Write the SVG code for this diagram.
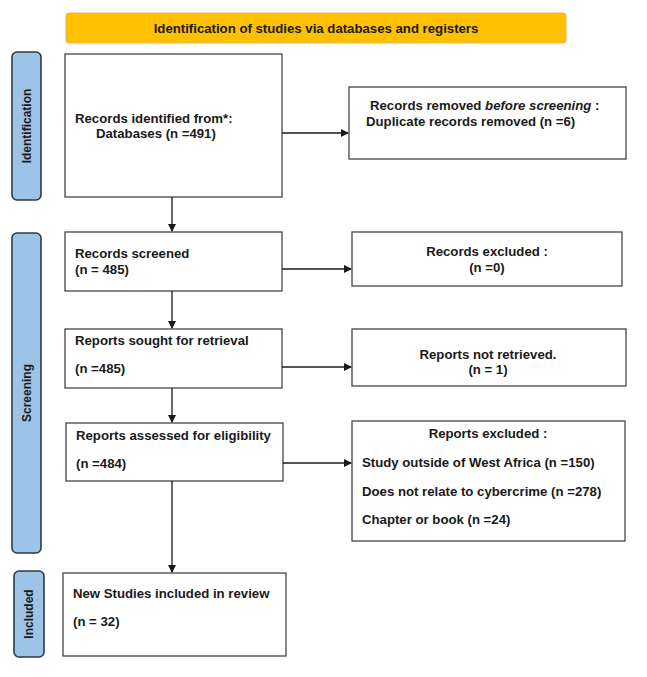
<svg xmlns="http://www.w3.org/2000/svg" width="647" height="677" viewBox="0 0 647 677">
<style>
.box{fill:#fff;stroke:#454545;stroke-width:1.3}
.side{fill:#9DC3E6;stroke:#2E3A48;stroke-width:1.6}
.t{font-family:"Liberation Sans",Arial,sans-serif;font-weight:bold;font-size:13.2px;fill:#1a1a1a}
.c{text-anchor:middle}
.s{font-family:"Liberation Sans",Arial,sans-serif;font-weight:bold;font-size:12px;fill:#1a1a1a;text-anchor:middle}
.ln{stroke:#1a1a1a;stroke-width:1.3;fill:none}
</style>
<defs>
<marker id="ah" markerWidth="8" markerHeight="8" refX="7" refY="4" orient="auto" markerUnits="userSpaceOnUse">
<path d="M0,0 L8,4 L0,8 Z" fill="#1a1a1a"/>
</marker>
</defs>
<rect width="647" height="677" fill="#fff"/>
<g id="banner">
<rect x="66" y="13" width="500" height="30" rx="3" fill="#FFC000" stroke="#E9B44C" stroke-width="1"/>
<text class="t c" x="316" y="33">Identification of studies via databases and registers</text>
</g>
<g id="side-identification">
<rect class="side" x="12" y="52" width="29" height="148" rx="5"/>
<text class="s" transform="translate(31,126) rotate(-90)">Identification</text>
</g>
<g id="side-screening">
<rect class="side" x="12" y="233" width="29" height="320" rx="5"/>
<text class="s" transform="translate(31,393) rotate(-90)">Screening</text>
</g>
<g id="side-included">
<rect class="side" x="14" y="571" width="30" height="86" rx="5"/>
<text class="s" transform="translate(33,614) rotate(-90)">Included</text>
</g>
<g id="records-identified">
<rect class="box" x="65" y="54" width="217" height="143"/>
<text class="t" x="75" y="123">Records identified from*:</text>
<text class="t" x="96" y="138">Databases (n =491)</text>
</g>
<g id="records-removed">
<rect class="box" x="349" y="87" width="277" height="72"/>
<text class="t" x="370" y="110">Records removed <tspan font-style="italic">before screening</tspan> :</text>
<text class="t" x="366" y="126">Duplicate records removed (n =6)</text>
</g>
<g id="records-screened">
<rect class="box" x="65" y="232" width="217" height="59"/>
<text class="t" x="75" y="258">Records screened</text>
<text class="t" x="75" y="274">(n = 485)</text>
</g>
<g id="records-excluded">
<rect class="box" x="352" y="232" width="270" height="54"/>
<text class="t c" x="487" y="256">Records excluded :</text>
<text class="t c" x="487" y="272">(n =0)</text>
</g>
<g id="reports-sought">
<rect class="box" x="65" y="329" width="217" height="59"/>
<text class="t" x="75" y="345">Reports sought for retrieval</text>
<text class="t" x="75" y="373">(n =485)</text>
</g>
<g id="reports-not-retrieved">
<rect class="box" x="352" y="329" width="274" height="57"/>
<text class="t c" x="488" y="359">Reports not retrieved.</text>
<text class="t c" x="488" y="374">(n = 1)</text>
</g>
<g id="reports-assessed">
<rect class="box" x="66" y="423" width="217" height="58"/>
<text class="t" x="76" y="440">Reports assessed for eligibility</text>
<text class="t" x="76" y="468">(n =484)</text>
</g>
<g id="reports-excluded">
<rect class="box" x="352" y="421" width="273" height="120"/>
<text class="t c" x="488" y="438">Reports excluded :</text>
<text class="t" x="362" y="467">Study outside of West Africa (n =150)</text>
<text class="t" x="362" y="496">Does not relate to cybercrime (n =278)</text>
<text class="t" x="362" y="524">Chapter or book (n =24)</text>
</g>
<g id="studies-included">
<rect class="box" x="63" y="573" width="223" height="83"/>
<text class="t" x="73" y="598">New Studies included in review</text>
<text class="t" x="73" y="626">(n = 32)</text>
</g>
<g id="connectors">
<line class="ln" x1="282" y1="133" x2="348" y2="133" marker-end="url(#ah)"/>
<line class="ln" x1="172" y1="197" x2="172" y2="231" marker-end="url(#ah)"/>
<line class="ln" x1="282" y1="269" x2="351" y2="269" marker-end="url(#ah)"/>
<line class="ln" x1="172" y1="291" x2="172" y2="328" marker-end="url(#ah)"/>
<line class="ln" x1="282" y1="367" x2="351" y2="367" marker-end="url(#ah)"/>
<line class="ln" x1="172" y1="388" x2="172" y2="422" marker-end="url(#ah)"/>
<line class="ln" x1="283" y1="463" x2="351" y2="463" marker-end="url(#ah)"/>
<line class="ln" x1="172" y1="481" x2="172" y2="572" marker-end="url(#ah)"/>
</g>
</svg>
